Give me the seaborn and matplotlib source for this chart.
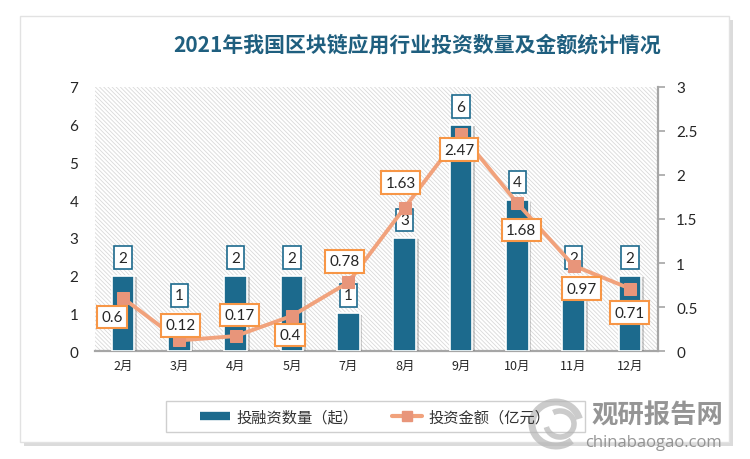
import numpy as np
import pandas as pd
import matplotlib
matplotlib.use('Agg')
import matplotlib.pyplot as plt
import seaborn as sns
from matplotlib.patches import Rectangle, Arc
from matplotlib.lines import Line2D
import matplotlib.patheffects as pe

# ---------------- data ----------------
months = ['2月', '3月', '4月', '5月', '7月', '8月', '9月', '10月', '11月', '12月']
deal_counts = [2, 1, 2, 2, 1, 3, 6, 4, 2, 2]
amounts = [0.6, 0.12, 0.17, 0.4, 0.78, 1.63, 2.47, 1.68, 0.97, 0.71]
left_ticks = [0, 1, 2, 3, 4, 5, 6, 7]
right_ticks = [0, 0.5, 1, 1.5, 2, 2.5, 3]
right_tick_labels = ['0', '0.5', '1', '1.5', '2', '2.5', '3']
title = '2021年我国区块链应用行业投资数量及金额统计情况'
bar_name = '投融资数量（起）'
line_name = '投资金额（亿元）'

# label placement (pixel offsets from the point) - styling only
amount_label_offsets = [(-11, -19), (1, 15), (4, 21), (-2, -19), (-4, 21),
                        (-4, 25), (-2, -16), (4, -27), (8, -23), (0, -24)]

# ---------------- style ----------------
bar_color = '#1c6a8d'
line_color = '#f1a27c'
marker_color = '#e8957a'
box_orange = '#f79646'
title_color = '#1f5f7f'
grey_axis = '#a6a6a6'
num_font = ['Lato', 'DejaVu Sans']

sns.set_theme(style='white')
plt.rcParams['font.family'] = ['Noto Sans CJK SC', 'DejaVu Sans']
plt.rcParams['hatch.linewidth'] = 0.6

W, H = 750, 460
fig = plt.figure(figsize=(7.5, 4.6), dpi=100)
fig.patch.set_facecolor('white')

def fx(px):
    return px / W

def fy(py):
    return 1 - py / H

# card with shadow
card = Rectangle((fx(20), fy(443)), fx(709), 426 / H, transform=fig.transFigure,
                 facecolor='white', edgecolor='#e2e2e2', lw=1, zorder=-5)
card.set_path_effects([pe.SimplePatchShadow(offset=(3, -3), shadow_rgbFace='#9a9a9a', alpha=0.35),
                       pe.Normal()])
fig.patches.append(card)

ax = fig.add_axes([fx(95), fy(352), 563 / W, 264 / H])
ax.set_facecolor('white')
ax.add_patch(Rectangle((0, 0), 1, 1, transform=ax.transAxes, facecolor='none',
                       edgecolor='#d9d9d9', hatch='\\' * 8, lw=0, zorder=0))

df = pd.DataFrame({'month': months, 'count': deal_counts, 'amount': amounts})
sns.barplot(data=df, x='month', y='count', color=bar_color, saturation=1, width=0.4,
            edgecolor='white', linewidth=1.2, ax=ax, zorder=3)
bars = ax.containers[0]
for p in bars:
    p.set_path_effects([pe.SimplePatchShadow(offset=(2, -1), shadow_rgbFace='#666666', alpha=0.3),
                        pe.Normal()])

ax.set_xlim(-0.5, len(months) - 0.5)
ax.set_ylim(0, 7)
ax.set_yticks(left_ticks)
ax.set_yticklabels([str(t) for t in left_ticks], fontsize=11, color='#262626', family=num_font)
ax.tick_params(axis='y', length=0, pad=12)
ax.tick_params(axis='x', length=0, pad=6, labelsize=9, colors='#262626')
ax.set_xlabel('')
ax.set_ylabel('')
for s in ['left', 'top', 'right']:
    ax.spines[s].set_visible(False)
ax.spines['bottom'].set_color(grey_axis)
ax.spines['bottom'].set_linewidth(1.6)

for p, v in zip(bars, deal_counts):
    ax.annotate(str(v), (p.get_x() + p.get_width() / 2, p.get_height()),
                xytext=(0, 18), textcoords='offset pixels', ha='center', va='center',
                fontsize=11, color='#262626', family=num_font, zorder=6,
                bbox=dict(boxstyle='square,pad=0.28', fc='white', ec=bar_color, lw=1.2))

ax2 = ax.twinx()
sns.lineplot(x=np.arange(len(months)), y=amounts, ax=ax2, color=line_color, lw=2.8,
             marker='s', markersize=8, markerfacecolor=marker_color,
             markeredgecolor=marker_color, zorder=4)
ax2.set_ylim(0, 3)
ax2.set_yticks(right_ticks)
ax2.set_yticklabels(right_tick_labels, fontsize=11, color='#262626', family=num_font)
ax2.tick_params(axis='y', direction='out', length=5, width=1.2, color=grey_axis, pad=8, right=True)
ax2.set_ylabel('')
for s in ['left', 'top', 'bottom']:
    ax2.spines[s].set_visible(False)
ax2.spines['right'].set_color(grey_axis)
ax2.spines['right'].set_linewidth(1.6)
ax2.set_xlim(-0.5, len(months) - 0.5)

for i, (v, off) in enumerate(zip(amounts, amount_label_offsets)):
    ax2.annotate(f'{v:g}', (i, v), xytext=off, textcoords='offset pixels',
                 ha='center', va='center', fontsize=11, color='#262626', family=num_font, zorder=6,
                 bbox=dict(boxstyle='square,pad=0.28', fc='white', ec=box_orange, lw=1.5))

# title
fig.text(fx(417), fy(45), title, ha='center', va='center', fontsize=15,
         fontweight='bold', color=title_color)

# legend
fig.patches.append(Rectangle((fx(166), fy(433)), 419 / W, 31 / H, transform=fig.transFigure,
                             facecolor='white', edgecolor='#cfcfcf', lw=1, zorder=-1))
handles = [Line2D([], [], color=bar_color, lw=6, solid_capstyle='butt'),
           Line2D([], [], color=line_color, lw=3, marker='s', markersize=7,
                  markerfacecolor=marker_color, markeredgecolor=marker_color)]
fig.legend(handles, [bar_name, line_name], loc='center', bbox_to_anchor=(fx(375), fy(418)),
           ncol=2, frameon=False, fontsize=11, handlelength=2.0, handletextpad=0.4,
           columnspacing=2.2, labelcolor='#333333')

# watermark
logo_kw = dict(transform=fig.transFigure, color='#b5b5b5', alpha=0.7)
fig.patches.append(Arc((fx(556), fy(425)), 48 / W, 44 / H, theta1=20, theta2=300, lw=5, **logo_kw))
fig.patches.append(Arc((fx(560), fy(425)), 28 / W, 26 / H, theta1=200, theta2=470, lw=4, **logo_kw))
fig.text(fx(657), fy(416), '观研报告网', ha='center', va='center', fontsize=19,
         fontweight='bold', color='#8a8a8a', alpha=0.9)
fig.text(fx(654), fy(443), 'chinabaogao.com', ha='center', va='center', fontsize=12,
         color='#8a8a8a', alpha=0.9, family=['Open Sans', 'DejaVu Sans'])

fig.savefig('out.png', dpi=100)
